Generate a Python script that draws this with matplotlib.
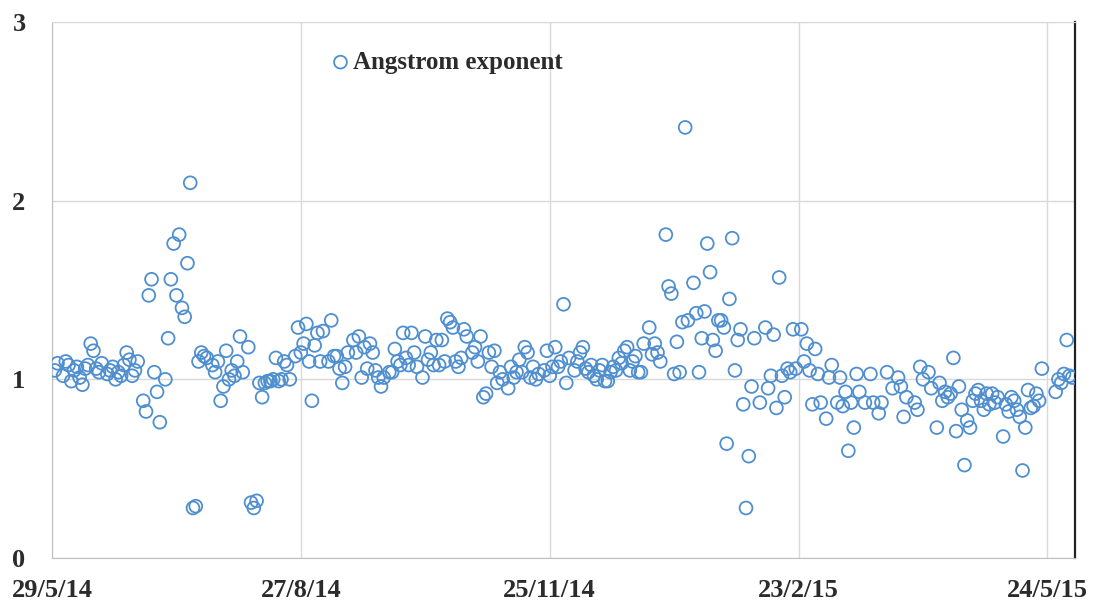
import numpy as np
import pandas as pd
import matplotlib
matplotlib.use('Agg')
import matplotlib.pyplot as plt
import matplotlib.dates as mdates
from matplotlib.ticker import FuncFormatter

# days since 29/5/14 and Angstrom exponent
start = pd.Timestamp('2014-05-29')
days = [1, 2, 4, 5, 6, 7, 8, 9, 10, 11, 12, 13, 14, 15, 16, 17, 18, 20, 21, 22,
        23, 24, 25, 26, 27, 28, 29, 30, 31, 33, 34, 35, 36, 37, 38, 39, 41, 42, 43, 44,
        45, 46, 47, 48, 49, 50, 51, 52, 53, 54, 55, 56, 58, 59, 60, 61, 62, 63, 64, 65,
        66, 67, 68, 69, 71, 72, 73, 74, 75, 76, 77, 78, 79, 80, 81, 82, 83, 84, 85, 86,
        88, 89, 90, 91, 92, 93, 94, 95, 96, 97, 98, 100, 101, 102, 103, 104, 105, 106, 107, 109,
        110, 111, 112, 113, 114, 115, 116, 117, 118, 119, 120, 122, 123, 124, 125, 126, 127, 128, 129, 130,
        131, 132, 134, 135, 136, 137, 138, 139, 140, 141, 142, 143, 144, 145, 146, 147, 148, 149, 150, 152,
        153, 154, 155, 156, 157, 158, 159, 160, 161, 162, 163, 165, 166, 167, 168, 169, 170, 171, 172, 173,
        174, 175, 176, 178, 179, 180, 181, 182, 183, 184, 185, 186, 187, 189, 190, 191, 192, 193, 194, 195,
        196, 197, 198, 199, 200, 201, 202, 203, 204, 205, 206, 207, 208, 209, 210, 211, 212, 213, 214, 216,
        217, 218, 219, 220, 222, 223, 224, 225, 226, 227, 228, 229, 230, 232, 233, 234, 235, 236, 237, 238,
        239, 240, 241, 242, 243, 244, 245, 246, 247, 248, 249, 250, 251, 252, 253, 254, 256, 258, 259, 260,
        261, 262, 263, 264, 265, 266, 267, 268, 269, 271, 272, 273, 274, 275, 276, 277, 278, 280, 281, 282,
        284, 285, 286, 287, 288, 289, 290, 291, 292, 294, 296, 297, 299, 300, 302, 304, 306, 307, 308, 309,
        312, 313, 314, 315, 317, 318, 320, 321, 322, 323, 324, 325, 326, 327, 328, 329, 330, 331, 332, 333,
        334, 335, 336, 337, 338, 339, 340, 341, 342, 344, 345, 346, 347, 348, 349, 350, 351, 352, 353, 354,
        355, 356, 357, 358, 363, 364, 365, 366, 367, 368, 369]
angstrom = [1.05, 1.09, 1.02, 1.10, 1.08, 0.99, 1.05, 1.07, 1.01, 0.97, 1.06, 1.08, 1.20, 1.16, 1.06, 1.04, 1.09, 1.03, 1.05, 1.07,
            1.00, 1.04, 1.02, 1.08, 1.15, 1.11, 1.02, 1.05, 1.10, 0.88, 0.82, 1.47, 1.56, 1.04, 0.93, 0.76, 1.00, 1.23, 1.56, 1.76,
            1.47, 1.81, 1.40, 1.35, 1.65, 2.10, 0.28, 0.29, 1.10, 1.15, 1.13, 1.12, 1.08, 1.04, 1.10, 0.88, 0.96, 1.16, 1.00, 1.05,
            1.02, 1.10, 1.24, 1.04, 1.18, 0.31, 0.28, 0.32, 0.98, 0.90, 0.98, 0.99, 0.99, 1.00, 1.12, 0.99, 1.00, 1.10, 1.08, 1.00,
            1.13, 1.29, 1.15, 1.20, 1.31, 1.10, 0.88, 1.19, 1.26, 1.10, 1.27, 1.10, 1.33, 1.13, 1.13, 1.06, 0.98, 1.07, 1.15, 1.22,
            1.15, 1.24, 1.01, 1.18, 1.06, 1.20, 1.15, 1.05, 1.01, 0.96, 1.01, 1.04, 1.04, 1.17, 1.10, 1.08, 1.26, 1.12, 1.08, 1.26,
            1.15, 1.07, 1.01, 1.24, 1.11, 1.15, 1.08, 1.22, 1.08, 1.22, 1.10, 1.34, 1.32, 1.29, 1.10, 1.07, 1.12, 1.28, 1.24, 1.15,
            1.18, 1.10, 1.24, 0.90, 0.92, 1.15, 1.07, 1.16, 0.98, 1.04, 1.00, 0.95, 1.07, 1.01, 1.04, 1.11, 1.04, 1.18, 1.15, 1.01,
            1.07, 1.00, 1.03, 1.05, 1.16, 1.02, 1.07, 1.18, 1.07, 1.10, 1.42, 0.98, 1.12, 1.05, 1.10, 1.15, 1.18, 1.06, 1.04, 1.08,
            1.02, 1.00, 1.05, 1.08, 0.99, 0.99, 1.04, 1.07, 1.05, 1.12, 1.09, 1.16, 1.18, 1.05, 1.10, 1.13, 1.04, 1.04, 1.20, 1.29,
            1.14, 1.20, 1.15, 1.10, 1.81, 1.52, 1.48, 1.03, 1.21, 1.04, 1.32, 2.41, 1.33, 1.54, 1.37, 1.04, 1.23, 1.38, 1.76, 1.60,
            1.22, 1.16, 1.33, 1.33, 1.29, 0.64, 1.45, 1.79, 1.05, 1.22, 1.28, 0.86, 0.28, 0.57, 0.96, 1.23, 0.87, 1.29, 0.95, 1.02,
            1.25, 0.84, 1.57, 1.02, 0.90, 1.06, 1.04, 1.28, 1.06, 1.28, 1.10, 1.20, 1.05, 0.86, 1.17, 1.03, 0.87, 0.78, 1.01, 1.08,
            0.87, 1.01, 0.85, 0.93, 0.60, 0.87, 0.73, 1.03, 0.93, 0.87, 1.03, 0.87, 0.81, 0.87, 1.04, 0.95, 1.01, 0.96, 0.79, 0.90,
            0.87, 0.83, 1.07, 1.00, 1.04, 0.95, 0.73, 0.98, 0.88, 0.93, 0.90, 0.92, 1.12, 0.71, 0.96, 0.83, 0.52, 0.77, 0.73, 0.88,
            0.92, 0.94, 0.88, 0.83, 0.92, 0.86, 0.92, 0.87, 0.90, 0.68, 0.86, 0.82, 0.90, 0.88, 0.83, 0.79, 0.49, 0.73, 0.94, 0.84,
            0.85, 0.92, 0.88, 1.06, 0.93, 1.00, 0.98, 1.03, 1.22, 1.02, 1.01]

tick_days = [0, 90, 180, 270, 360]
y_ticks = [0, 1, 2, 3]

dates = start + pd.to_timedelta(days, unit='D')
tick_dates = start + pd.to_timedelta(tick_days, unit='D')

plt.rcParams['font.family'] = ['Liberation Serif', 'DejaVu Serif']
plt.rcParams['font.weight'] = 'bold'

fig = plt.figure(figsize=(10.99, 6.06), dpi=100)
ax = fig.add_axes([0.0473, 0.0792, 0.9309, 0.8845])

ax.scatter(dates, angstrom, s=85, facecolors='none', edgecolors='#4f8fd0',
           linewidths=1.3, label='Angstrom exponent', zorder=3)

ax.set_xlim(start, start + pd.Timedelta(days=370))
ax.set_ylim(0, 3)
ax.set_xticks(tick_dates)
ax.set_yticks(y_ticks)
ax.xaxis.set_major_formatter(FuncFormatter(
    lambda v, p: '%d/%d/%d' % (mdates.num2date(v).day, mdates.num2date(v).month,
                                mdates.num2date(v).year % 100)))

ax.grid(True, color='#d9d9d9', linewidth=1.0, zorder=0)
ax.tick_params(axis='both', length=0, labelsize=19, colors='#2b2b2b')
ax.tick_params(axis='y', pad=19)
ax.tick_params(axis='x', pad=15)
for lab in ax.get_xticklabels() + ax.get_yticklabels():
    lab.set_fontweight('bold')

ax.spines['left'].set_color('#bfbfbf')
ax.spines['bottom'].set_color('#bfbfbf')
ax.spines['top'].set_color('#d9d9d9')
ax.spines['right'].set_color('#222222')
ax.spines['right'].set_linewidth(1.6)

leg = ax.legend(loc='center left', bbox_to_anchor=(0.260, 0.925), frameon=False,
                handlelength=0.8, handletextpad=0.1, borderpad=0,
                prop={'size': 18, 'weight': 'bold'})
for t in leg.get_texts():
    t.set_color('#2b2b2b')

fig.savefig('out.png', dpi=100)
